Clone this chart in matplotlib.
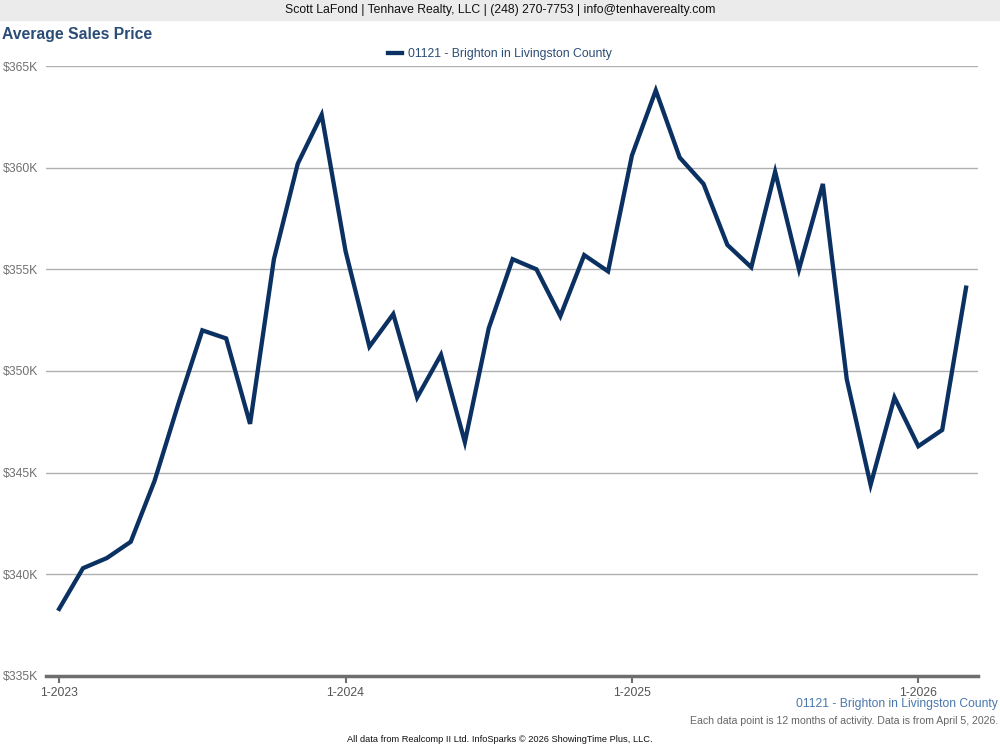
import matplotlib
matplotlib.use('Agg')
import matplotlib.pyplot as plt
from matplotlib.ticker import FuncFormatter

plt.rcParams['font.family'] = ['Liberation Sans', 'DejaVu Sans']

# monthly points, 1-2023 .. 3-2026 (12-month rolling average sales price, $K)
months = ['1-2023', '2-2023', '3-2023', '4-2023', '5-2023', '6-2023', '7-2023', '8-2023',
          '9-2023', '10-2023', '11-2023', '12-2023',
          '1-2024', '2-2024', '3-2024', '4-2024', '5-2024', '6-2024', '7-2024', '8-2024',
          '9-2024', '10-2024', '11-2024', '12-2024',
          '1-2025', '2-2025', '3-2025', '4-2025', '5-2025', '6-2025', '7-2025', '8-2025',
          '9-2025', '10-2025', '11-2025', '12-2025',
          '1-2026', '2-2026', '3-2026']
prices = [338.3, 340.3, 340.8, 341.6, 344.6, 348.4, 352.0, 351.6,
          347.4, 355.5, 360.2, 362.6,
          355.9, 351.2, 352.8, 348.7, 350.8, 346.5, 352.1, 355.5,
          355.0, 352.7, 355.7, 354.9,
          360.6, 363.8, 360.5, 359.2, 356.2, 355.1, 359.8, 355.0,
          359.2, 349.6, 344.4, 348.7,
          346.3, 347.1, 354.1]
series_name = '01121 - Brighton in Livingston County'
y_ticks = [335, 340, 345, 350, 355, 360, 365]
x_tick_labels = ['1-2023', '1-2024', '1-2025', '1-2026']

navy = '#0b3162'
title_blue = '#2b4c77'

fig = plt.figure(figsize=(10, 7.5), dpi=100)
ax = fig.add_axes([0.046, 0.0987, 0.932, 0.8133])

x = list(range(len(months)))
ax.plot(x, [p * 1000 for p in prices], color=navy, linewidth=3.1,
        solid_joinstyle='miter', label=series_name)

ax.set_ylim(335000, 365000)
ax.set_yticks([t * 1000 for t in y_ticks])
ax.yaxis.set_major_formatter(FuncFormatter(lambda v, p: '${:.0f}K'.format(v / 1000)))
ax.set_xlim(-0.55, 38.5)
ax.set_xticks([months.index(m) for m in x_tick_labels])
ax.set_xticklabels(x_tick_labels)

ax.grid(axis='y', color='#b0b0b0', linewidth=1)
ax.set_axisbelow(True)
for s in ['top', 'right', 'left']:
    ax.spines[s].set_visible(False)
ax.spines['bottom'].set_color('#6e6e6e')
ax.spines['bottom'].set_linewidth(2.5)
ax.tick_params(axis='y', length=0, labelsize=8.8, labelcolor='#707070', pad=5.5)
ax.tick_params(axis='x', length=5, width=1.5, color='#6e6e6e', labelsize=8.8,
               labelcolor='#555555', pad=3)
for lab in ax.get_yticklabels():
    lab.set_verticalalignment('center_baseline')

# header band
fig.patches.append(plt.Rectangle((0, 1 - 20 / 750), 1, 20 / 750, transform=fig.transFigure,
                                 color='#ebebeb', zorder=0))
fig.text(0.5, 1 - 10 / 750, 'Scott LaFond | Tenhave Realty, LLC | (248) 270-7753 | info@tenhaverealty.com',
         ha='center', va='center', fontsize=8.8, color='#111111')
fig.text(0.002, 1 - 35 / 750, 'Average Sales Price', ha='left', va='center',
         fontsize=11.3, fontweight='bold', color=title_blue)

leg = fig.legend(loc='center', bbox_to_anchor=(0.5, 1 - 54 / 750), frameon=False,
                 fontsize=8.8, handlelength=1.1, handletextpad=0.5)
for t in leg.get_texts():
    t.set_color(title_blue)

fig.text(0.998, 1 - 704 / 750, series_name, ha='right', va='center',
         fontsize=8.7, color='#4a78ad')
fig.text(0.998, 1 - 721 / 750, 'Each data point is 12 months of activity. Data is from April 5, 2026.',
         ha='right', va='center', fontsize=7.6, color='#666666')
fig.text(0.5, 1 - 739 / 750, 'All data from Realcomp II Ltd. InfoSparks \u00a9 2026 ShowingTime Plus, LLC.',
         ha='center', va='center', fontsize=6.7, color='#111111')

fig.savefig('out.png', dpi=100)
